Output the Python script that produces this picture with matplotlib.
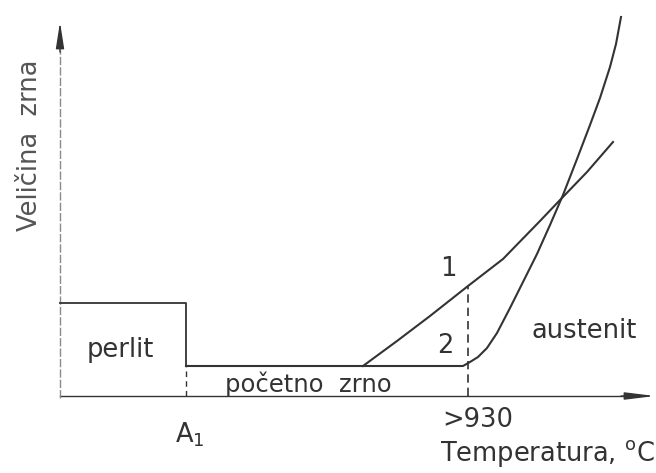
import matplotlib.pyplot as plt

plt.rcParams['font.family'] = 'DejaVu Sans'

# grain-size schematic, arbitrary units (temperature -> right, grain size -> up)
axis_x_end = 595
axis_y_end = 374
a1_temp = 126
t930 = 408

perlit_temp = [0, 126, 126]
perlit_size = [93, 93, 30]

start_temp = [126, 400]
start_size = [30, 30]

curve1_temp = [303, 337, 370, 408, 443, 480, 500, 527, 553]
curve1_size = [30, 55, 80, 110, 137, 175, 196, 224, 254]

curve2_temp = [126, 403, 410, 418, 427, 437, 450, 463, 477, 490,
               503, 517, 530, 540, 550, 556, 561]
curve2_size = [30, 30, 34, 39, 48, 63, 88, 114, 142, 171,
               201, 237, 271, 298, 329, 352, 379]

ink = '#333333'

fig = plt.figure(figsize=(6.56, 4.73), dpi=100)
ax = fig.add_axes([0, 0, 1, 1])
ax.set_xlim(-60, 596)
ax.set_ylim(-77, 396)
ax.axis('off')

# axes with arrows
ax.plot([0, axis_x_end - 30], [0, 0], color=ink, lw=1.0)
ax.annotate('', xy=(axis_x_end, 0), xytext=(axis_x_end - 34, 0),
            arrowprops=dict(arrowstyle='-|>,head_length=1.8,head_width=0.22',
                            color=ink, lw=1.0, shrinkA=0, shrinkB=0))
ax.plot([0, 0], [-2, axis_y_end - 28], color='#8a8a8a', lw=1.0, ls=(0, (6, 1.5)))
ax.annotate('', xy=(0, axis_y_end), xytext=(0, axis_y_end - 30),
            arrowprops=dict(arrowstyle='-|>,head_length=1.6,head_width=0.25',
                            color=ink, lw=1.0, shrinkA=0, shrinkB=0))

# perlit box and starting grain
ax.plot(perlit_temp, perlit_size, color=ink, lw=1.3)
ax.plot(start_temp, start_size, color=ink, lw=1.3)
ax.plot([a1_temp, a1_temp], [0, 30], color=ink, lw=1.0, ls=(0, (4, 3)))
ax.plot([t930, t930], [0, curve1_size[3]], color=ink, lw=1.2, ls=(0, (5, 3)))

# curves
ax.plot(curve1_temp, curve1_size, color=ink, lw=1.5, solid_joinstyle='round')
ax.plot(curve2_temp, curve2_size, color=ink, lw=1.5, solid_joinstyle='round')

fs = 18.5
ax.text(-30, 251, 'Veličina  zrna', rotation=90, ha='center', va='center',
        fontsize=fs, color='#555555')
ax.text(60, 46, 'perlit', ha='center', va='center', fontsize=fs, color=ink)
ax.text(248, 12, 'početno  zrno', ha='center', va='center', fontsize=17.5, color=ink)
ax.text(388, 127, '1', ha='center', va='center', fontsize=fs, color=ink)
ax.text(385, 50, '2', ha='center', va='center', fontsize=fs, color=ink)
ax.text(524, 65, 'austenit', ha='center', va='center', fontsize=fs, color=ink)
ax.text(130, -39, r'A$_{\mathregular{1}}$', ha='center', va='center', fontsize=fs, color=ink)
ax.text(418, -24, '>930', ha='center', va='center', fontsize=fs, color=ink)
ax.text(595, -57, r'Temperatura, $^{\mathregular{o}}$C', ha='right', va='center',
        fontsize=fs, color=ink)

fig.savefig('out.png', dpi=100)
